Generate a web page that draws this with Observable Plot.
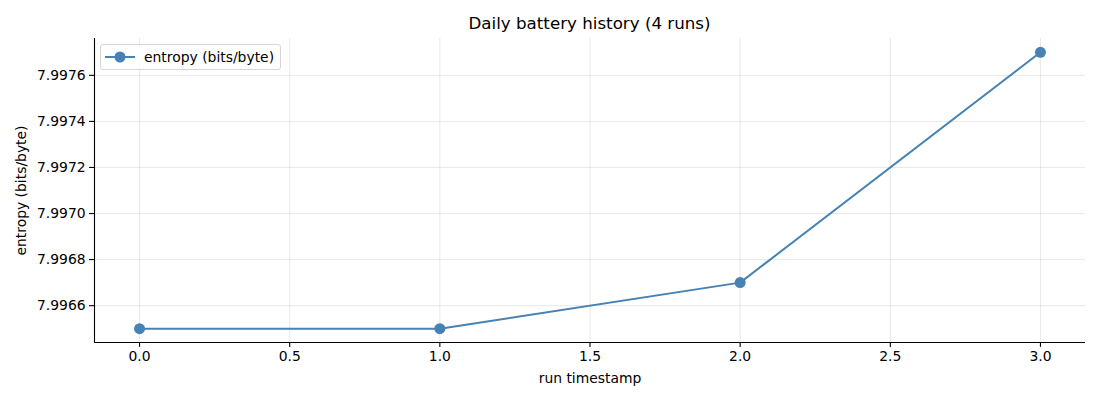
<!DOCTYPE html>
<html>
<head>
<meta charset="utf-8">
<script src="https://cdn.jsdelivr.net/npm/d3@7"></script>
<script src="https://cdn.jsdelivr.net/npm/@observablehq/plot@0.6"></script>
<style>
  body { margin: 0; background: #fff; font-family: "DejaVu Sans", sans-serif; }
  #wrap { position: relative; width: 1100px; height: 400px; }
  #title { height: 30px; padding-top: 8px; line-height: 30px; font-size: 16.7px; color: #000;
           position: relative; }
  #title span { position: absolute; left: 589.5px; transform: translateX(-50%); white-space: nowrap; }
  #legend { position: absolute; left: 100px; top: 44px; width: 179px; height: 24px;
            border: 1px solid #d6d6d6; border-radius: 3px; background: rgba(255,255,255,0.8);
            font-size: 13.9px; }
  #legend svg { position: absolute; left: 3px; top: 2px; }
  #legend .lbl { position: absolute; left: 43px; top: 3px; line-height: 18px; white-space: nowrap; }
  svg { font-family: "DejaVu Sans", sans-serif; }
</style>
</head>
<body>
<div id="wrap">
  <div id="title"><span>Daily battery history (4 runs)</span></div>
  <div id="chart"></div>
  <div id="legend">
    <svg width="34" height="20"><line x1="1" y1="10" x2="31" y2="10" stroke="steelblue" stroke-width="2"/><circle cx="16" cy="10" r="5.5" fill="steelblue"/></svg>
    <span class="lbl">entropy (bits/byte)</span>
  </div>
</div>
<script>
const runs = [0, 1, 2, 3];
const entropy = [7.9965, 7.9965, 7.9967, 7.9977];
const xTicks = [0, 0.5, 1, 1.5, 2, 2.5, 3];
const yTicks = [7.9966, 7.9968, 7.9970, 7.9972, 7.9974, 7.9976];
const seriesName = "entropy (bits/byte)";

const data = runs.map((r, i) => ({run: r, value: entropy[i]}));
const pad = (ext) => { const m = (ext[1] - ext[0]) * 0.05; return [ext[0] - m, ext[1] + m]; };
const xDom = pad(d3.extent(runs));
const yDom = pad(d3.extent(entropy));

const plot = Plot.plot({
  width: 1100,
  height: 362,
  marginTop: 0,
  marginLeft: 94,
  marginRight: 15,
  marginBottom: 58,
  style: {fontSize: "13.9px", fontFamily: "DejaVu Sans, sans-serif", color: "#000", background: "#fff"},
  x: {domain: xDom, label: null},
  y: {domain: yDom, label: null},
  marks: [
    Plot.gridX(xTicks, {stroke: "#b0b0b0", strokeOpacity: 0.35, strokeWidth: 0.8}),
    Plot.gridY(yTicks, {stroke: "#b0b0b0", strokeOpacity: 0.35, strokeWidth: 0.8}),
    Plot.axisX(xTicks, {tickFormat: d3.format(".1f"), tickSize: 4.9, tickPadding: 4, fontSize: "13.9px", stroke: "#000", strokeWidth: 1.1}),
    Plot.axisY(yTicks, {tickFormat: d3.format(".4f"), tickSize: 4.9, tickPadding: 4, fontSize: "13.9px", stroke: "#000", strokeWidth: 1.1}),
    Plot.ruleX([xDom[0]], {stroke: "#000", strokeWidth: 1.1}),
    Plot.ruleY([yDom[0]], {stroke: "#000", strokeWidth: 1.1}),
    Plot.line(data, {x: "run", y: "value", stroke: "steelblue", strokeWidth: 2}),
    Plot.dot(data, {x: "run", y: "value", fill: "steelblue", r: 5.5}),
    Plot.text([ "run timestamp" ], {frameAnchor: "bottom", dy: 40, fontSize: "13.9px", fill: "#000", text: d => d}),
    Plot.text([ seriesName ], {frameAnchor: "left", textAnchor: "middle", dx: -73, rotate: -90, fontSize: "13.9px", fill: "#000", text: d => d})
  ]
});
document.getElementById("chart").appendChild(plot);
</script>
</body>
</html>
